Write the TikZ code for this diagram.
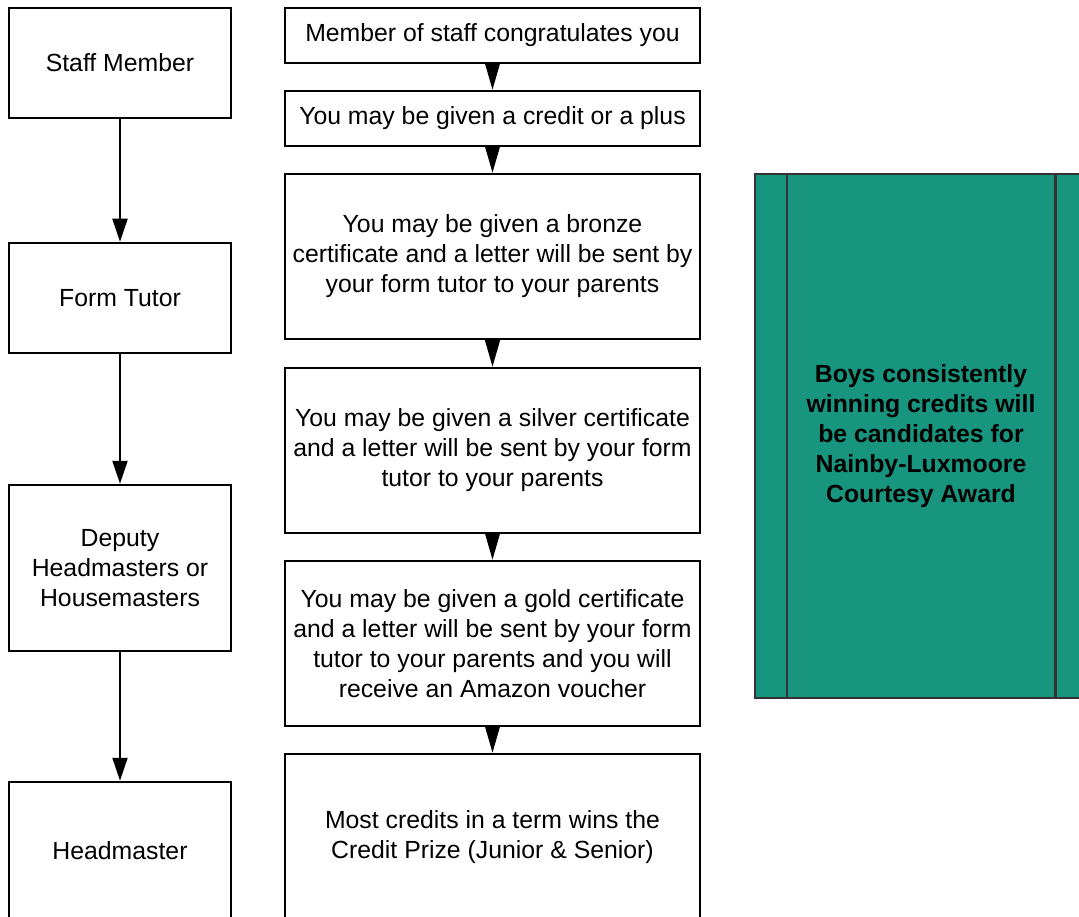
\documentclass[tikz,border=0pt]{standalone}
\usepackage{fontspec}
\setmainfont{Liberation Sans}
\usetikzlibrary{arrows.meta}
\definecolor{awardgreen}{RGB}{24,149,126}
\definecolor{awardline}{RGB}{51,51,51}
\tikzset{
  rolebox/.style={draw, line width=2.5pt, minimum width=222pt, align=center},
  stagebox/.style={draw, line width=2.5pt, minimum width=415pt, inner sep=2pt, align=center},
  rolearrow/.style={-{Triangle[length=23pt,width=15pt]}, line width=2pt},
  stagearrow/.style={-{Triangle[length=27pt,width=15pt]}, line width=2pt},
}
\begin{document}
\begin{tikzpicture}[x=1pt, y=-1pt, font=\fontsize{24.8}{30}\selectfont]
    \useasboundingbox (0,0) rectangle (1079,917);
    % who awards
    \node[rolebox, minimum height=110pt] (staff) at (120, 63) {Staff Member};
    \node[rolebox, minimum height=110pt] (tutor) at (120, 298) {Form Tutor};
    \node[rolebox, minimum height=166pt] (deputy) at (120, 568) {Deputy\\Headmasters or\\Housemasters};
    \node[rolebox, minimum height=138pt] (head) at (120, 851) {Headmaster};

    \draw[rolearrow] (staff) -- (tutor);
    \draw[rolearrow] (tutor) -- (deputy);
    \draw[rolearrow] (deputy) -- (head);

    % what you get
    \node[stagebox, minimum height=55pt] (congrats) at (492.5, 35.5) {Member of staff congratulates you};
    \node[stagebox, minimum height=55pt] (credit) at (492.5, 118.5) {You may be given a credit or a plus};
    \node[stagebox, minimum height=165pt] (bronze) at (492.5, 256.5) {You may be given a bronze\\certificate and a letter will be sent by\\your form tutor to your parents};
    \node[stagebox, minimum height=165pt] (silver) at (492.5, 450.5) {You may be given a silver certificate\\and a letter will be sent by your form\\tutor to your parents};
    \node[stagebox, minimum height=165pt] (gold) at (492.5, 643.5) {You may be given a gold certificate\\and a letter will be sent by your form\\tutor to your parents and you will\\receive an Amazon voucher};
    \node[stagebox, minimum height=166pt] (prize) at (492.5, 837) {Most credits in a term wins the\\Credit Prize (Junior \& Senior)};

    \draw[stagearrow] (congrats) -- (credit);
    \draw[stagearrow] (credit) -- (bronze);
    \draw[stagearrow] (bronze) -- (silver);
    \draw[stagearrow] (silver) -- (gold);
    \draw[stagearrow] (gold) -- (prize);

    % courtesy award
    \node[draw=awardline, fill=awardgreen, line width=2.5pt, minimum width=332pt, minimum height=524pt, align=center, font=\fontsize{24.8}{30}\selectfont\bfseries] (award) at (921, 436)
      {Boys consistently\\winning credits will\\be candidates for\\Nainby-Luxmoore\\Courtesy Award};
    \draw[awardline, line width=2.5pt] ([xshift=33pt]award.north west) -- ([xshift=33pt]award.south west);
    \draw[awardline, line width=2.5pt] ([xshift=-33pt]award.north east) -- ([xshift=-33pt]award.south east);
\end{tikzpicture}
\end{document}
